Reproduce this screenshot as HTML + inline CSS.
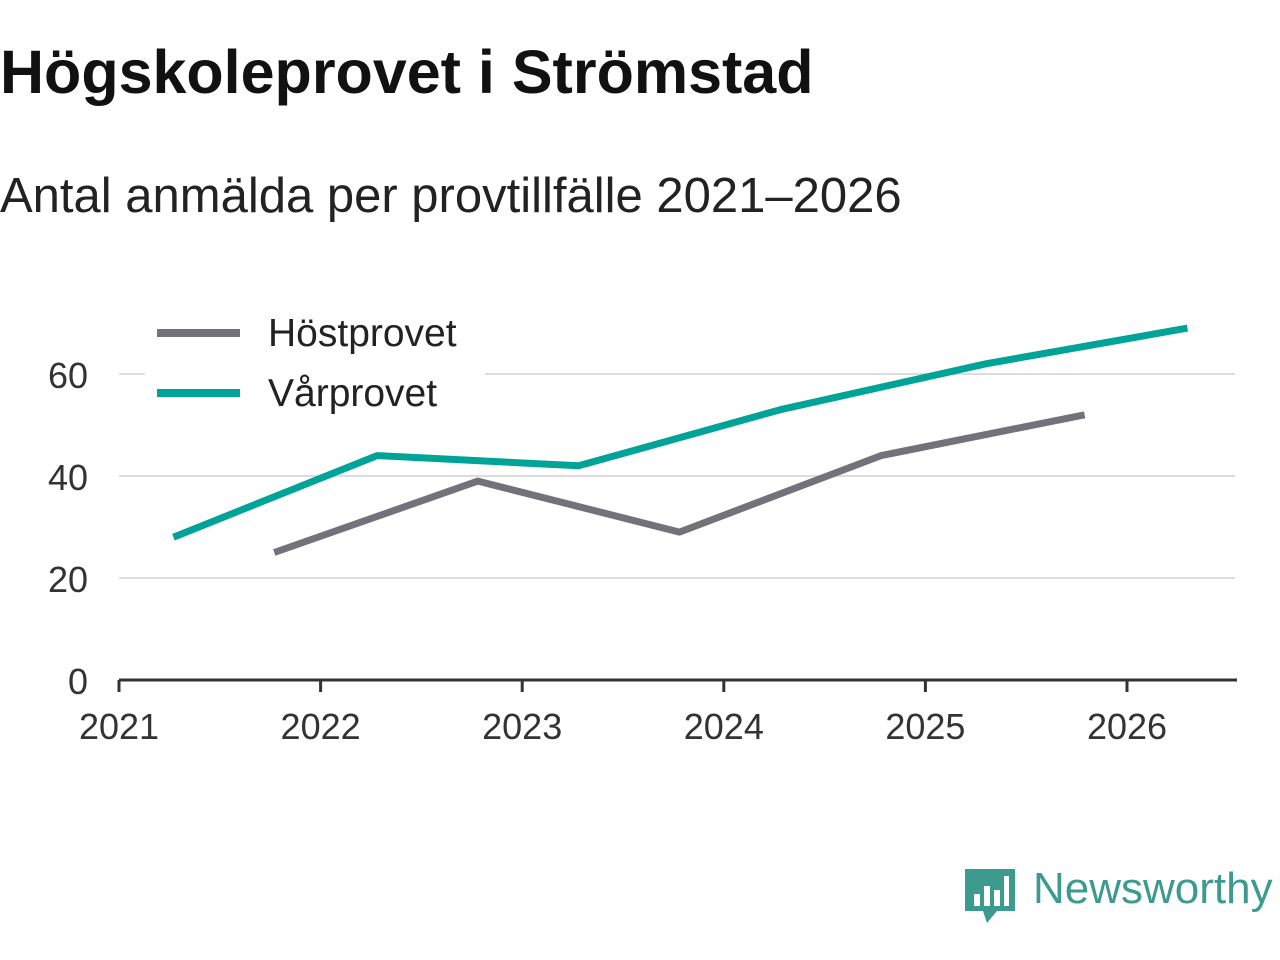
<!DOCTYPE html>
<html><head><meta charset="utf-8"><style>
body{margin:0;width:1280px;height:960px;background:#fff;font-family:"Liberation Sans",sans-serif;overflow:hidden;position:relative}
h1{position:absolute;left:0;top:37px;margin:0;font-size:61px;font-weight:bold;color:#111;letter-spacing:0px}
h2{position:absolute;left:0;top:168px;margin:0;font-size:49px;font-weight:normal;color:#222}
svg{position:absolute;left:0;top:0}
</style></head><body>
<h1>Högskoleprovet i Strömstad</h1>
<h2>Antal anmälda per provtillfälle 2021–2026</h2>
<svg id="c" width="1280" height="960"></svg>
<script>
const years=[2021,2022,2023,2024,2025,2026];
const yTicks=[0,20,40,60];
const varX=[2021.27,2022.28,2023.28,2024.28,2025.3,2026.3];
const varVals=[28,44,42,53,62,69];
const hostX=[2021.77,2022.78,2023.78,2024.78,2025.79];
const hostVals=[25,39,29,44,52];
const NS="http://www.w3.org/2000/svg";
const svg=document.getElementById('c');
const xs=v=>119+(v-2021)*201.6;
const ys=v=>680-v*5.1;
function mk(t,a){const e=document.createElementNS(NS,t);for(const k in a)e.setAttribute(k,a[k]);svg.appendChild(e);return e;}
yTicks.forEach(t=>{
 if(t>0){const g=mk('line',{x1:119,x2:1235,y1:ys(t),y2:ys(t),stroke:'#ddd','stroke-width':2});
 
 }
 const l=mk('text',{x:88,y:ys(t)+14,'text-anchor':'end','font-size':36,fill:'#333','font-family':'Liberation Sans, sans-serif'});
 l.textContent=t;
 
 
});
const ax=mk('line',{x1:119,x2:1237,y1:680,y2:680,stroke:'#333','stroke-width':3});


years.forEach(y=>{
 const tk=mk('line',{x1:xs(y),x2:xs(y),y1:680,y2:692,stroke:'#333','stroke-width':3});
 
 
 const l=mk('text',{x:xs(y),y:739,'text-anchor':'middle','font-size':36,fill:'#333','font-family':'Liberation Sans, sans-serif'});
 l.textContent=y;
 
 
});
function line(xv,vv,col,name){
 const p=mk('polyline',{points:xv.map((x,i)=>xs(x)+','+ys(vv[i])).join(' '),fill:'none',stroke:col,'stroke-width':7,'stroke-linejoin':'round'});
 
 
}
line(hostX,hostVals,'#737179','series-hostprovet');
line(varX,varVals,'#00a398','series-varprovet');
const bg=mk('rect',{x:145,y:305,width:340,height:120,fill:'#fff'});


[['Höstprovet','#737179',333],['Vårprovet','#00a398',393]].forEach(([n,c,y])=>{
 const s=mk('line',{x1:157,x2:240,y1:y,y2:y,stroke:c,'stroke-width':8});
 
 
 const t=mk('text',{x:268,y:y+13,'font-size':39,fill:'#222','font-family':'Liberation Sans, sans-serif'});
 t.textContent=n;
 
 
});
</script>
<div style="position:absolute;left:965px;top:866px;width:320px;height:60px">
<svg width="50" height="60" style="position:static"><path d="M0 3h50v42H32l-10 12-4-12H0z" fill="#3d9a8f"/><rect x="9" y="28" width="6" height="12" fill="#fff"/><rect x="19" y="20" width="6" height="20" fill="#fff"/><rect x="29" y="24" width="6" height="16" fill="#fff"/><rect x="39" y="10" width="5" height="30" fill="#fff"/></svg>
<span style="position:absolute;left:68px;top:-2px;font-size:44px;color:#3d9a8f">Newsworthy</span>
</div>
</body></html>
